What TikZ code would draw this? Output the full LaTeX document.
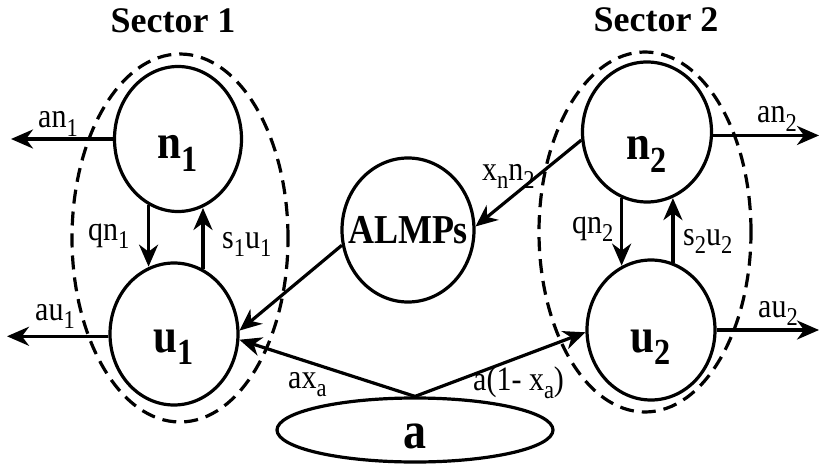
\documentclass[tikz,border=0pt]{standalone}
\usepackage{fontspec}
\setmainfont{Liberation Serif}
\usepackage{graphicx}
\usetikzlibrary{arrows.meta,shapes.geometric}

% lowered, reduced subscript in the current font
\newcommand\lo[1]{\raisebox{-0.25em}{\scalebox{0.75}{#1}}}
% slightly tall lettering
\newcommand\tall[1]{\scalebox{1}[1.14]{#1}}
% centred text of no width, so the shape keeps its given size
\newcommand\ctr[1]{\makebox[0pt]{\tall{#1}}}

\begin{document}
\begin{tikzpicture}[x=1pt,y=-1pt,
  state/.style={ellipse, draw, line width=3.2pt, inner sep=0pt, text depth=0pt,
    font=\fontsize{43}{43}\selectfont\bfseries},
  flow/.style={line width=3.2pt, -{Stealth[length=22pt,width=19pt,inset=7pt]}},
  lbl/.style={font=\fontsize{30}{30}\selectfont, inner sep=0pt, anchor=base west},
  group/.style={line width=3.2pt, dash pattern=on 14pt off 8pt},
  title/.style={font=\fontsize{36}{36}\selectfont\bfseries, inner sep=0pt, anchor=base}]
\useasboundingbox (0,0) rectangle (821,465);

% sector outlines
\draw[group] (180,238) ellipse [x radius=108pt, y radius=184pt];
\draw[group] (645,232) ellipse [x radius=106pt, y radius=180pt];

% titles
\node[title] (t1) at (173,33) {Sector 1};
\node[title] (t2) at (656,32) {Sector 2};

% stocks; text height puts each baseline below the centre
\node[state, minimum width=127pt, minimum height=145pt, text height=40pt] (n1) at (178,139) {\ctr{n\lo{1}}};
\node[state, minimum width=128pt, minimum height=142pt, text height=36pt] (u1) at (174,334) {\ctr{u\lo{1}}};
\node[state, minimum width=129pt, minimum height=140pt, text height=56pt] (n2) at (647,132) {\ctr{n\lo{2}}};
\node[state, minimum width=128pt, minimum height=140pt, text height=44pt] (u2) at (651,330) {\ctr{u\lo{2}}};
\node[state, font=\fontsize{36}{36}\selectfont\bfseries, minimum width=132pt, minimum height=144pt, text height=26pt] (almp) at (408,230) {\ctr{ALMPs}};
\node[state, font=\fontsize{46}{46}\selectfont\bfseries, minimum width=276pt, minimum height=64pt, text height=36pt] (a) at (415,430) {\ctr{a}};

% free ends of the outflows
\coordinate (an1end) at (11,0);
\coordinate (au1end) at (7,0);
\coordinate (an2end) at (819,0);
\coordinate (au2end) at (819,0);

% outflows
\draw[flow] (n1.west) -- (n1.west -| an1end);
\draw[flow] (u1.182) -- (u1.182 -| au1end);
\draw[flow] (n2.-3) -- (n2.-3 -| an2end);
\draw[flow] (u2.east) -- (u2.east -| au2end);

% transitions inside the sectors
\draw[flow] (n1.-114) -- (n1.-114 |- u1.110);
\draw[flow] (u1.66) -- (u1.66 |- n1.-71);
\draw[flow] (n2.-111) -- (n2.-111 |- u2.114);
\draw[flow] (u2.72) -- (u2.72 |- n2.-69);

% flows between sectors
\draw[flow] (n2.187) -- (almp.3);
\draw[flow] (almp.193) -- (u1.3);
\draw[flow] (a.north) -- (u1.-5);
\draw[flow] (a.north) -- (u2.182);

% rates
\node[lbl] (l-an1) at (38,128) {\tall{an\lo{1}}};
\node[lbl] (l-au1) at (35,320) {\tall{au\lo{1}}};
\node[lbl] (l-qn1) at (88,240) {\tall{qn\lo{1}}};
\node[lbl] (l-su1) at (222,248) {\tall{s\lo{1}u\lo{1}}};
\node[lbl] (l-an2) at (757,123) {\tall{an\lo{2}}};
\node[lbl] (l-au2) at (758,317) {\tall{au\lo{2}}};
\node[lbl] (l-qn2) at (572,233) {\tall{qn\lo{2}}};
\node[lbl] (l-su2) at (683,245) {\tall{s\lo{2}u\lo{2}}};
\node[lbl] (l-xn) at (482,180) {\tall{x\lo{n}n\lo{2}}};
\node[lbl] (l-ax) at (288,388) {\tall{ax\lo{a}}};
\node[lbl] (l-a1x) at (473,390) {\tall{a(1- x\lo{a})}};
\end{tikzpicture}
\end{document}
